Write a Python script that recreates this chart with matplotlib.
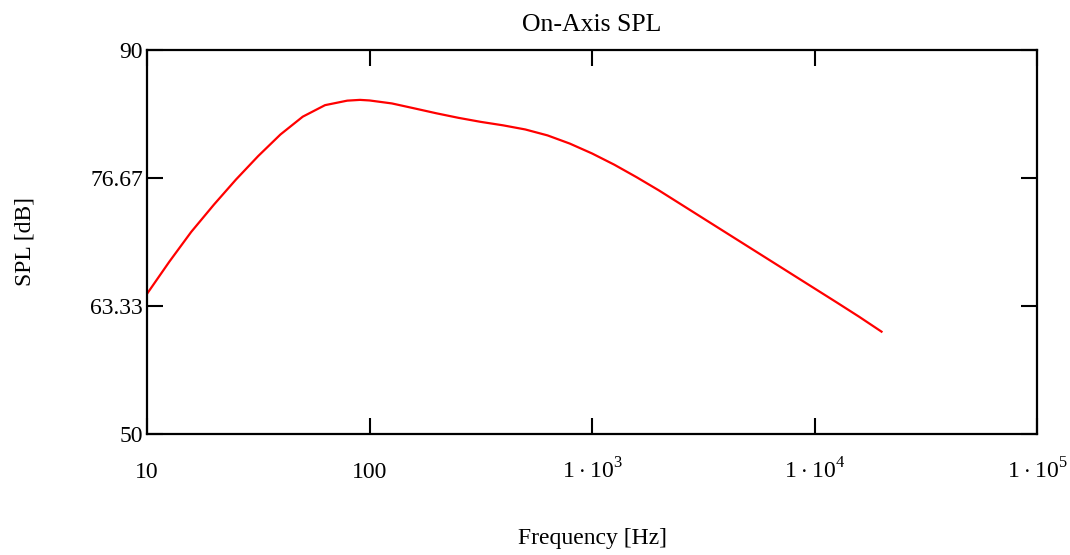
import numpy as np
import matplotlib
matplotlib.use('Agg')
import matplotlib.pyplot as plt

plt.rcParams['font.family'] = ['Liberation Serif', 'DejaVu Serif']
plt.rcParams['mathtext.fontset'] = 'custom'
plt.rcParams['mathtext.rm'] = 'Liberation Serif'

# Values (about one point every 0.1 decade)
freq = [10, 12.6, 15.8, 20, 25.1, 31.6, 39.8, 50.1, 63.1, 79.4, 90.6,
        100, 126, 158, 200, 251, 316, 398, 501, 631, 794,
        1000, 1259, 1585, 1995, 2512, 3162, 3981, 5012, 6310, 7943,
        10000, 12589, 15849, 20000]
spl = [64.60, 67.95, 71.05, 73.90, 76.50, 78.95, 81.20, 83.05, 84.25, 84.72, 84.80,
       84.74, 84.43, 83.93, 83.40, 82.93, 82.51, 82.15, 81.72, 81.10, 80.25,
       79.22, 78.05, 76.75, 75.38, 73.92, 72.46, 71.00, 69.54, 68.08, 66.62,
       65.16, 63.70, 62.22, 60.66]

xticks = [10, 100, 1e3, 1e4, 1e5]
xticklabels = ['10', '100', r'$1\cdot10^{3}$', r'$1\cdot10^{4}$', r'$1\cdot10^{5}$']
yticks = [50, 63.33, 76.67, 90]
yticklabels = ['50', '63.33', '76.67', '90']

fig = plt.figure(figsize=(10.7, 5.55), dpi=100)
ax = fig.add_axes([0.1374, 0.218, 0.9692 - 0.1374, 0.91 - 0.218])

ax.semilogx(freq, spl, color='red', lw=1.6, solid_joinstyle='round')

ax.set_xlim(10, 1e5)
ax.set_ylim(50, 90)
ax.set_xticks(xticks)
ax.set_xticklabels(xticklabels)
ax.xaxis.set_minor_locator(matplotlib.ticker.NullLocator())
ax.set_yticks(yticks)
ax.set_yticklabels(yticklabels)

ax.tick_params(axis='both', direction='in', length=11.5, width=1.5, labelsize=17,
               top=True, right=True)
ax.tick_params(axis='x', pad=32)
ax.tick_params(axis='y', pad=3)
for lab in ax.get_xticklabels():
    lab.set_va('baseline')
for s in ax.spines.values():
    s.set_linewidth(1.6)

ax.set_title('On-Axis SPL', fontsize=18.5, pad=14)
ax.set_xlabel('Frequency [Hz]', fontsize=17)
ax.xaxis.set_label_coords(0.5, -0.245)
ax.set_ylabel('SPL [dB]', fontsize=17)
ax.yaxis.set_label_coords(-0.125, 0.5)

fig.savefig('out.png', dpi=100)
